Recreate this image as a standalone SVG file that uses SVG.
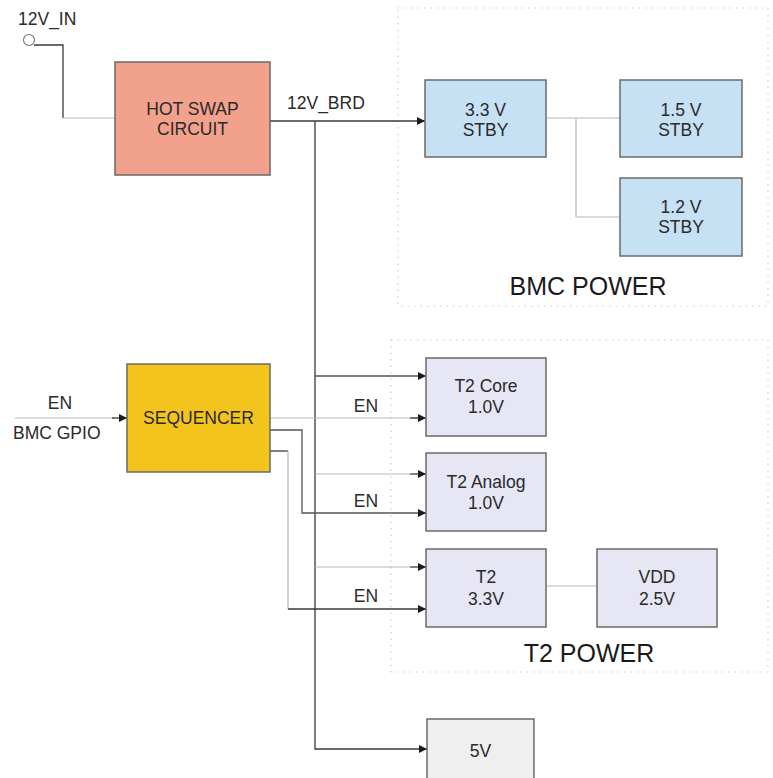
<svg xmlns="http://www.w3.org/2000/svg" width="773" height="778" viewBox="0 0 773 778">
<style>
  text { font-family: "Liberation Sans", Arial, sans-serif; fill: #2a2a2a; }
  .lbl { font-size: 17.5px; text-anchor: middle; }
  .sig { font-size: 17.5px; }
  .title { font-size: 25px; text-anchor: middle; fill: #1a1a1a; }
  .box { stroke: #6a6a6a; stroke-width: 1.5; }
  .region { fill: none; stroke: #cdcdcd; stroke-width: 1.2; stroke-dasharray: 1.5 5; }
  .dk { fill: none; stroke: #3a3a3a; stroke-width: 1.3; }
  .lt { fill: none; stroke: #b8b8b8; stroke-width: 1.2; }
  .md { fill: none; stroke: #555; stroke-width: 1.3; }
</style>
<defs>
  <marker id="arr" viewBox="0 0 10 10" refX="10" refY="5" markerWidth="12" markerHeight="8" markerUnits="userSpaceOnUse" orient="auto">
    <path d="M0,0 L10,5 L0,10 z" fill="#1a1a1a"/>
  </marker>
</defs>
<rect width="773" height="778" fill="#ffffff"/>

<g id="regions">
  <rect class="region" x="398" y="8" width="370" height="298"/>
  <rect class="region" x="391" y="340" width="377" height="332"/>
</g>

<g id="connectors">
  <path class="dk" d="M34,45 H63 V118"/>
  <path class="lt" d="M63,118 H115"/>
  <path class="dk" d="M270,121 H425" marker-end="url(#arr)"/>
  <path class="dk" d="M315,121 V749 H427" marker-end="url(#arr)"/>
  <path class="lt" d="M546,118 H620"/>
  <path class="lt" d="M576,118 V217 H620"/>
  <path class="md" d="M315,376 H426" marker-end="url(#arr)"/>
  <path class="lt" d="M315,474 H420"/>
  <path class="md" d="M410,474 H426" marker-end="url(#arr)"/>
  <path class="lt" d="M315,567 H420"/>
  <path class="md" d="M410,567 H426" marker-end="url(#arr)"/>
  <path class="lt" d="M15,418 H115"/>
  <path class="dk" d="M112,418 H127" marker-end="url(#arr)"/>
  <path class="lt" d="M270,418 H420"/>
  <path class="dk" d="M410,418 H426" marker-end="url(#arr)"/>
  <path class="md" d="M270,430 H302 V513 H426" marker-end="url(#arr)"/>
  <path class="dk" d="M270,451 H288"/>
  <path class="lt" d="M288,451 V609"/>
  <path class="dk" d="M288,609 H426" marker-end="url(#arr)"/>
  <path class="lt" d="M546,586 H597"/>
</g>

<g id="in12v">
  <circle cx="29" cy="40" r="5.5" fill="#fff" stroke="#777" stroke-width="1.2"/>
  <text class="sig" x="18" y="25">12V_IN</text>
</g>
<text class="sig" x="287" y="109">12V_BRD</text>

<g id="hotswap">
  <rect class="box" x="115" y="62" width="155" height="113" fill="#f2a18c"/>
  <text class="lbl" x="192.5" y="115">HOT SWAP</text>
  <text class="lbl" x="192.5" y="135">CIRCUIT</text>
</g>

<g id="sequencer">
  <rect class="box" x="127" y="364" width="143" height="108" fill="#f3c51c"/>
  <text class="lbl" x="198.5" y="424">SEQUENCER</text>
</g>
<text class="sig" x="60" y="409" text-anchor="middle">EN</text>
<text class="sig" x="13" y="439">BMC GPIO</text>

<g id="stby33">
  <rect class="box" x="425" y="80" width="121" height="77" fill="#c6e0f4"/>
  <text class="lbl" x="485.5" y="116">3.3 V</text>
  <text class="lbl" x="485.5" y="136">STBY</text>
</g>
<g id="stby15">
  <rect class="box" x="620" y="80" width="122" height="77" fill="#c6e0f4"/>
  <text class="lbl" x="681" y="116">1.5 V</text>
  <text class="lbl" x="681" y="136">STBY</text>
</g>
<g id="stby12">
  <rect class="box" x="620" y="178" width="122" height="78" fill="#c6e0f4"/>
  <text class="lbl" x="681" y="213">1.2 V</text>
  <text class="lbl" x="681" y="233">STBY</text>
</g>
<text class="title" x="588" y="295">BMC POWER</text>

<g id="t2core">
  <rect class="box" x="426" y="358" width="120" height="78" fill="#e6e6f4"/>
  <text class="lbl" x="486" y="392">T2 Core</text>
  <text class="lbl" x="486" y="413">1.0V</text>
</g>
<g id="t2analog">
  <rect class="box" x="426" y="453" width="120" height="78" fill="#e6e6f4"/>
  <text class="lbl" x="486" y="488">T2 Analog</text>
  <text class="lbl" x="486" y="509">1.0V</text>
</g>
<g id="t233">
  <rect class="box" x="426" y="549" width="120" height="78" fill="#e6e6f4"/>
  <text class="lbl" x="486" y="583">T2</text>
  <text class="lbl" x="486" y="605">3.3V</text>
</g>
<g id="vdd25">
  <rect class="box" x="597" y="549" width="120" height="78" fill="#e6e6f4"/>
  <text class="lbl" x="657" y="583">VDD</text>
  <text class="lbl" x="657" y="605">2.5V</text>
</g>
<text class="title" x="589" y="662">T2 POWER</text>

<text class="sig" x="366" y="412" text-anchor="middle">EN</text>
<text class="sig" x="366" y="507" text-anchor="middle">EN</text>
<text class="sig" x="366" y="602" text-anchor="middle">EN</text>

<g id="v5">
  <rect class="box" x="427" y="719" width="107" height="70" fill="#efefef"/>
  <text class="lbl" x="480.5" y="757">5V</text>
</g>
</svg>
